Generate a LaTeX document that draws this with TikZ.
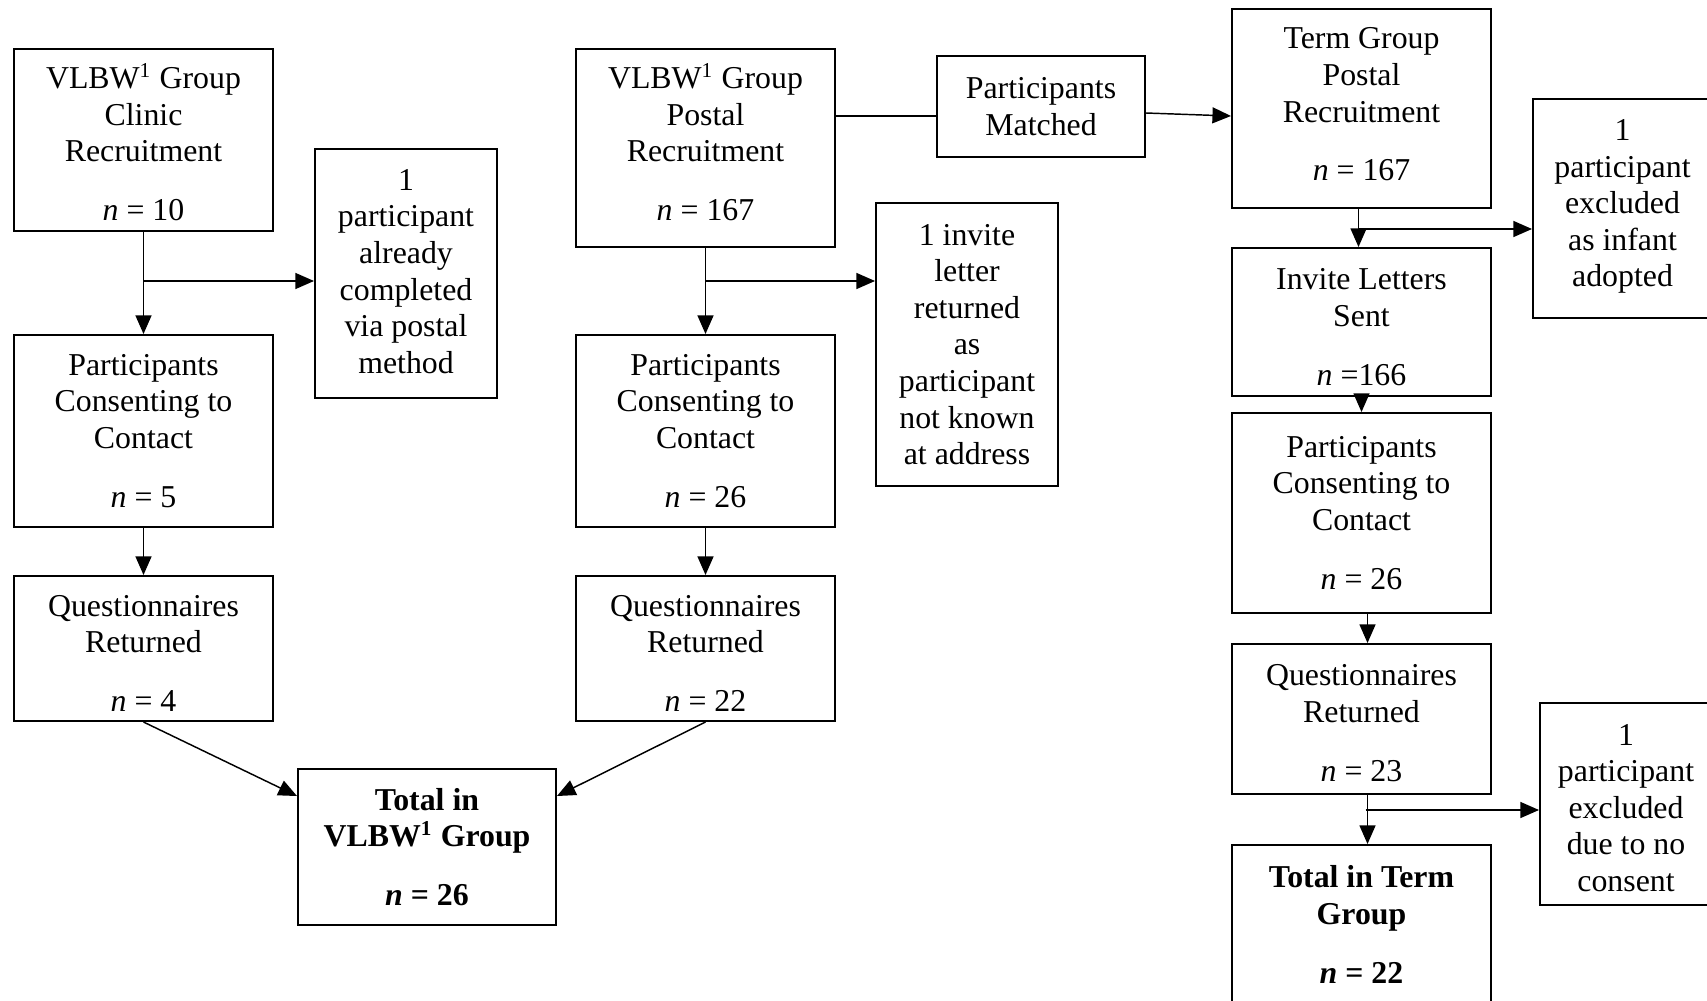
\documentclass[tikz,border=0pt]{standalone}
\usepackage{fontspec}
\setmainfont{Liberation Serif}
\usetikzlibrary{arrows.meta,calc}
\newcommand\flowbox[7][0]{%
  \node[box, minimum width={(#4-#2)*0.377pt}, minimum height={(#5-#3)*0.377pt}] (#6) at ({(#2+#4)/2},{(#3+#5)/2}) {};
  \node[txt] (#6-t) at ($(#6.center)+(0,#1)$) {#7};}
\begin{document}
\begin{tikzpicture}[x=0.377pt,y=-0.377pt,
  box/.style={draw, line width=0.75pt, inner sep=0pt},
  txt/.style={inner sep=0pt, align=center, font=\fontsize{12}{13.8}\selectfont},
  conn/.style={line width=0.55pt},
  arr/.style={conn, -{Triangle[length=7pt,width=6pt]}}]
\useasboundingbox (0,0) rectangle (1707,1000);
\clip (0,0) rectangle (1707,1000);
\fill[white] (0,0) rectangle (1707,1000);
% left column
\flowbox[2]{14}{49}{273}{231}{clinic}{VLBW\textsuperscript{1} Group\\Clinic\\Recruitment\\[8.4pt]\textit{n} = 10}
\flowbox[-2]{315}{149}{497}{398}{exA}{1\\participant\\already\\completed\\via postal\\method}
\flowbox{14}{335}{273}{527}{con1}{Participants\\Consenting to\\Contact\\[8.4pt]\textit{n} = 5}
\flowbox[5]{14}{576}{273}{721}{q1}{Questionnaires\\Returned\\[8.4pt]\textit{n} = 4}
\flowbox{298}{769}{556}{925}{tot1}{\bfseries Total in\\\bfseries VLBW\textsuperscript{1} Group\\[8.4pt]\bfseries\itshape n\upshape\ = 26}
% middle column
\flowbox[-6]{576}{49}{835}{247}{postal}{VLBW\textsuperscript{1} Group\\Postal\\Recruitment\\[8.4pt]\textit{n} = 167}
\flowbox{937}{56}{1145}{157}{matched}{Participants\\Matched}
\flowbox{876}{203}{1058}{486}{exB}{1 invite\\letter\\returned\\as\\participant\\not known\\at address}
\flowbox{576}{335}{835}{527}{con2}{Participants\\Consenting to\\Contact\\[8.4pt]\textit{n} = 26}
\flowbox[5]{576}{576}{835}{721}{q2}{Questionnaires\\Returned\\[8.4pt]\textit{n} = 22}
% right column
\flowbox[-4]{1232}{9}{1491}{208}{term}{Term Group\\Postal\\Recruitment\\[8.4pt]\textit{n} = 167}
\flowbox[-2]{1533}{99}{1712}{318}{exC}{1\\participant\\excluded\\as infant\\adopted}
\flowbox[5]{1232}{248}{1491}{396}{invite}{Invite Letters\\Sent\\[8.4pt]\textit{n} =166}
\flowbox{1232}{413}{1491}{613}{con3}{Participants\\Consenting to\\Contact\\[8.4pt]\textit{n} = 26}
\flowbox[4]{1232}{644}{1491}{794}{q3}{Questionnaires\\Returned\\[8.4pt]\textit{n} = 23}
\flowbox[4]{1540}{703}{1712}{905}{exD}{1\\participant\\excluded\\due to no\\consent}
\flowbox{1232}{845}{1491}{1004}{tot3}{\bfseries Total in Term\\\bfseries Group\\[8.4pt]\bfseries\itshape n\upshape\ = 22}
% connectors left
\draw[arr] (clinic.south) -- (con1.north);
\coordinate (bA) at ($(clinic.south)+(0,49)$);
\draw[arr] (bA) -- (bA -| exA.west);
\draw[arr] (con1.south) -- (q1.north);
\draw[arr] (q1.south) -- ($(tot1.north west)+(0,28)$);
\draw[arr] (q2.south) -- ($(tot1.north east)+(0,28)$);
% connectors middle
\coordinate (pm) at ($(postal.north east)+(0,68)$);
\draw[conn] (pm) -- (pm -| matched.west);
\coordinate (mo) at ($(matched.north east)+(0,58)$);
\draw[arr] (mo) -- ($(term.north west)+(0,108)$);
\draw[arr] (postal.south) -- (con2.north);
\coordinate (bB) at ($(postal.south)+(0,33)$);
\draw[arr] (bB) -- (bB -| exB.west);
\draw[arr] (con2.south) -- (q2.north);
% connectors right
\coordinate (tS) at ($(term.south)+(-3,0)$);
\draw[arr] (tS) -- (tS |- invite.north);
\coordinate (bC) at ($(tS)+(0,20)$);
\draw[arr] (bC) -- (bC -| exC.west);
\draw[arr] (invite.south) -- (con3.north);
\coordinate (cS) at ($(con3.south)+(6,0)$);
\draw[arr] (cS) -- (cS |- q3.north);
\coordinate (qS) at ($(q3.south)+(6,0)$);
\draw[arr] (qS) -- (qS |- tot3.north);
\coordinate (bD) at ($(qS)+(-2,15)$);
\draw[arr] (bD) -- (bD -| exD.west);
\end{tikzpicture}
\end{document}
